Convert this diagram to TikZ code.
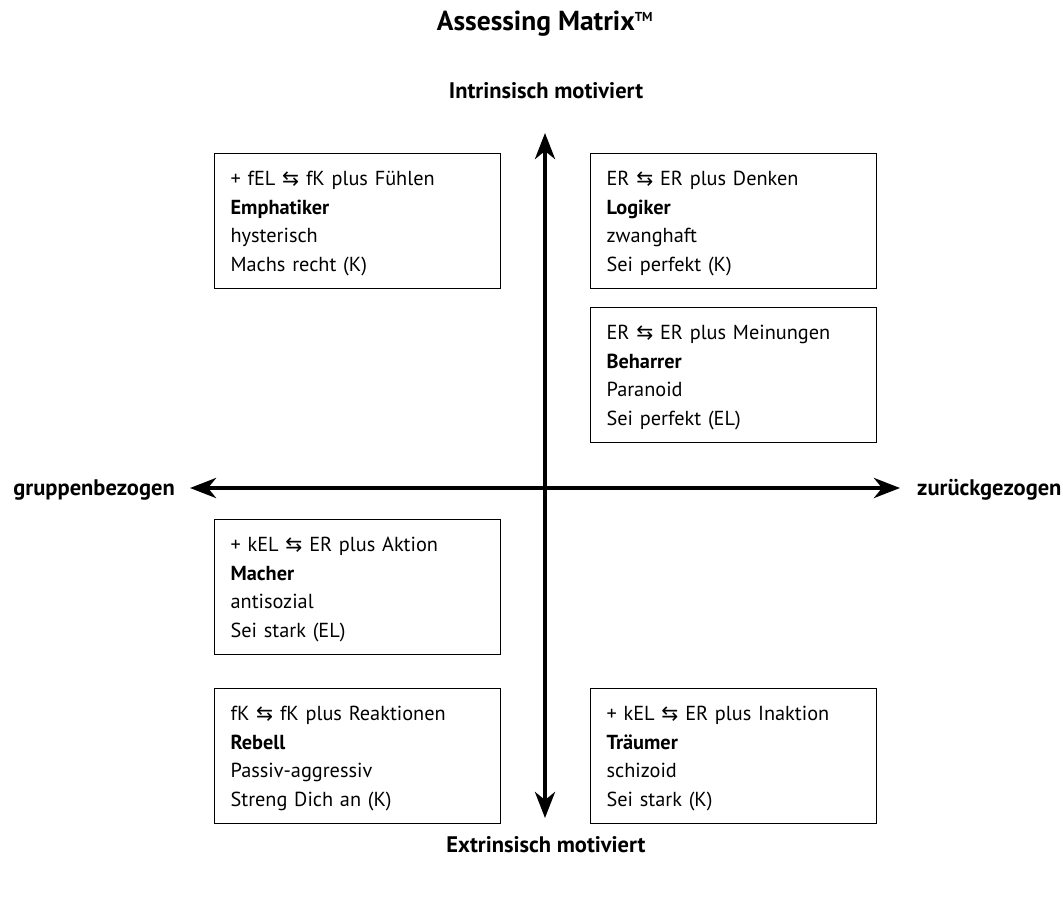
\documentclass[tikz,border=0pt]{standalone}
\usepackage{fontspec}
\setmainfont{PT Sans}
\newfontfamily\symfont{DejaVu Sans}
\usetikzlibrary{arrows.meta}
\newcommand{\lrarr}{{\symfont\char"21C6}}
\newcommand{\qtop}{\rule{0pt}{20pt}}
\newcommand{\qbot}{\rule[-5pt]{0pt}{5pt}}
\begin{document}
\begin{tikzpicture}[x=1pt,y=-1pt,
  quad/.style={draw, line width=1.2pt, minimum width=286pt, minimum height=135pt,
    anchor=north west, align=left, text width=254pt, inner sep=0pt,
    font=\fontsize{20.3}{28.7}\selectfont},
  axis/.style={line width=4pt, {Stealth[length=26pt,width=20pt,inset=8pt]}-{Stealth[length=26pt,width=20pt,inset=8pt]}},
  axlabel/.style={font=\bfseries\fontsize{22.5}{26}\selectfont, inner sep=0pt},
  titlestyle/.style={font=\bfseries\fontsize{27.5}{31}\selectfont, inner sep=0pt}]
\useasboundingbox (0,0) rectangle (1063,899);
\fill[white] (0,0) rectangle (1063,899);
% labels
\node[titlestyle, anchor=base] (title) at (545,31) {Assessing Matrix\textsuperscript{\fontsize{13}{13}\selectfont TM}};
\node[axlabel, anchor=base] (top) at (546,98) {Intrinsisch motiviert};
\node[axlabel, anchor=base] (bottom) at (546,852) {Extrinsisch motiviert};
\node[axlabel, anchor=base east] (left) at (175,495) {gruppenbezogen};
\node[axlabel, anchor=base west] (right) at (917,495) {zurückgezogen};
% axis ends
\coordinate (vt) at (545,133);
\coordinate (vb) at (545,818);
\coordinate (hl) at (190,488);
\coordinate (hr) at (900,488);
\draw[axis] (vb) -- (vt);
\draw[axis] (hl) -- (hr);
% boxes
\node[quad] (emph) at (214,153) {\qtop+ fEL \lrarr{} fK plus Fühlen\\\textbf{Emphatiker}\\hysterisch\\Machs recht (K)\qbot};
\node[quad] (logi) at (590,153) {\qtop ER \lrarr{} ER plus Denken\\\textbf{Logiker}\\zwanghaft\\Sei perfekt (K)\qbot};
\node[quad] (beha) at (590,307) {\qtop ER \lrarr{} ER plus Meinungen\\\textbf{Beharrer}\\Paranoid\\Sei perfekt (EL)\qbot};
\node[quad] (mach) at (214,519) {\qtop+ kEL \lrarr{} ER plus Aktion\\\textbf{Macher}\\antisozial\\Sei stark (EL)\qbot};
\node[quad] (rebe) at (214,688) {\qtop fK \lrarr{} fK plus Reaktionen\\\textbf{Rebell}\\Passiv-aggressiv\\Streng Dich an (K)\qbot};
\node[quad] (trae) at (590,688) {\qtop+ kEL \lrarr{} ER plus Inaktion\\\textbf{Träumer}\\schizoid\\Sei stark (K)\qbot};
\end{tikzpicture}
\end{document}
